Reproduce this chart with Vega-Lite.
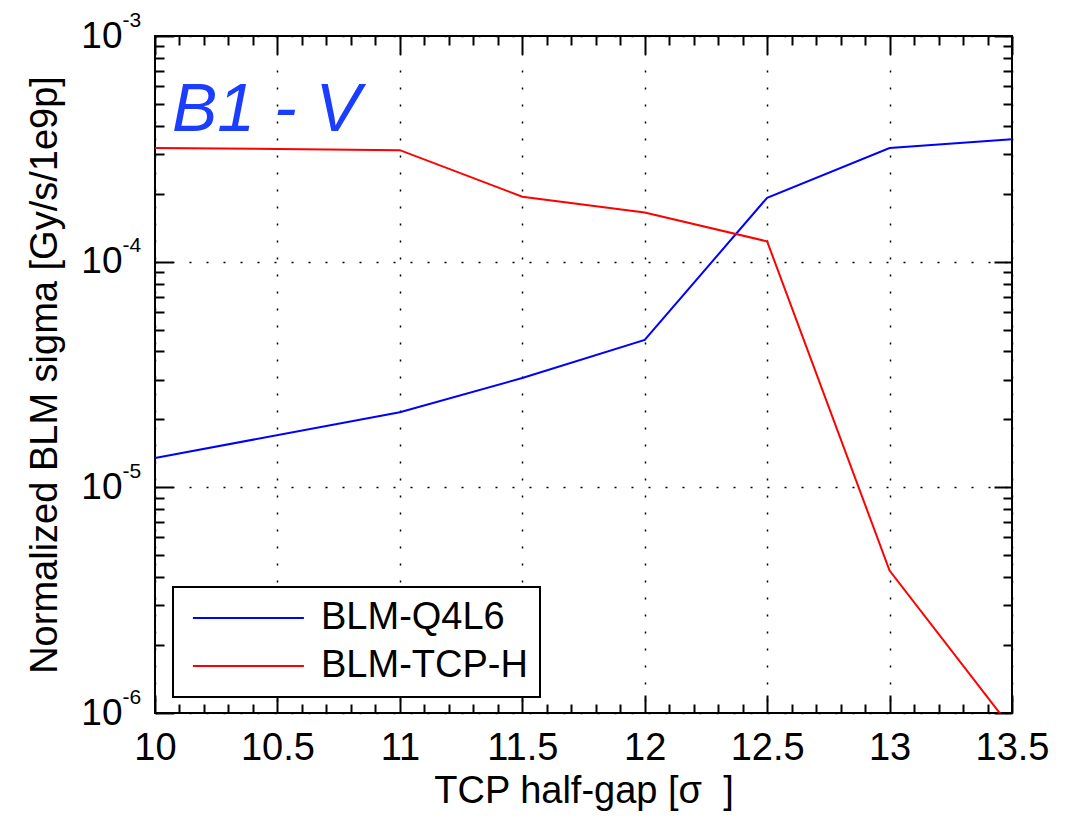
{
  "$schema": "https://vega.github.io/schema/vega-lite/v6.json",
  "width": 857,
  "height": 677,
  "autosize": "none",
  "padding": {"left": 155, "top": 36, "right": 55, "bottom": 106},
  "background": "white",
  "config": {
    "font": "Liberation Sans",
    "view": {"stroke": "black", "strokeWidth": 2},
    "axis": {"labelFont": "Liberation Sans", "titleFont": "Liberation Sans", "labelColor": "black", "titleColor": "black", "tickColor": "black", "tickWidth": 2, "domain": false, "grid": false, "labelOverlap": false, "labelFlush": false},
    "legend": {"strokeWidth": 2}
  },
  "title": {"text": "B1 - V", "anchor": "start", "frame": "group", "fontSize": 68, "font": "Liberation Sans", "fontStyle": "italic", "fontWeight": "normal", "color": "#1a3dff", "baseline": "alphabetic", "offset": 0, "dx": 17, "dy": 190},
  "data": {
    "values": [
      {"gap": 10, "level": 1.35e-5, "blm": "BLM-Q4L6"},
      {"gap": 11, "level": 2.15e-5, "blm": "BLM-Q4L6"},
      {"gap": 11.5, "level": 3.05e-5, "blm": "BLM-Q4L6"},
      {"gap": 12, "level": 4.5e-5, "blm": "BLM-Q4L6"},
      {"gap": 12.5, "level": 1.92e-4, "blm": "BLM-Q4L6"},
      {"gap": 13, "level": 3.19e-4, "blm": "BLM-Q4L6"},
      {"gap": 13.5, "level": 3.49e-4, "blm": "BLM-Q4L6"},
      {"gap": 10, "level": 3.19e-4, "blm": "BLM-TCP-H"},
      {"gap": 11, "level": 3.12e-4, "blm": "BLM-TCP-H"},
      {"gap": 11.5, "level": 1.94e-4, "blm": "BLM-TCP-H"},
      {"gap": 12, "level": 1.65e-4, "blm": "BLM-TCP-H"},
      {"gap": 12.5, "level": 1.23e-4, "blm": "BLM-TCP-H"},
      {"gap": 13, "level": 4.28e-6, "blm": "BLM-TCP-H"},
      {"gap": 13.5, "level": 8.5e-7, "blm": "BLM-TCP-H"}
    ]
  },
  "layer": [
    {
      "mark": {"type": "line", "clip": true, "strokeWidth": 2},
      "encoding": {
        "x": {"field": "gap", "type": "quantitative", "scale": {"domain": [10, 13.5], "nice": false, "zero": false},
          "axis": {"orient": "bottom", "title": "TCP half-gap [σ\u00a0\u00a0]", "titleFontSize": 38, "titleFontWeight": "normal", "titlePadding": 5,
            "values": [10, 10.5, 11, 11.5, 12, 12.5, 13, 13.5],
            "labelExpr": "format(datum.value,'~g')",
            "labelFontSize": 38, "labelPadding": 34, "labelBaseline": "top",
            "tickSize": -18,
            "grid": true, "gridColor": "black", "gridWidth": 1.5, "gridDash": [2, 15]}},
        "y": {"field": "level", "type": "quantitative", "scale": {"type": "log", "domain": [1e-6, 1e-3], "nice": false},
          "axis": {"orient": "left", "title": "Normalized BLM sigma [Gy/s/1e9p]", "titleFontSize": 38, "titleFontWeight": "normal", "titlePadding": 16,
            "values": [1e-6, 1e-5, 1e-4, 1e-3],
            "labelExpr": "'10'",
            "labelFontSize": 37, "labelPadding": 51, "labelBaseline": "middle",
            "tickSize": -18,
            "grid": true, "gridColor": "black", "gridWidth": 1.5, "gridDash": [2, 15]}},
        "color": {"field": "blm", "type": "nominal",
          "scale": {"domain": ["BLM-Q4L6", "BLM-TCP-H"], "range": ["#0000ff", "#ff0000"]},
          "legend": {"orient": "none", "legendX": 18, "legendY": 551, "title": null, "symbolType": "M-1,0H9", "symbolSize": 493, "symbolStrokeWidth": 2,
            "labelFontSize": 38, "labelFont": "Liberation Sans", "labelColor": "black", "labelOffset": 98, "labelLimit": 400,
            "strokeColor": "black", "fillColor": "white", "padding": 12, "rowPadding": 10, "cornerRadius": 0}}
      }
    },
    {
      "mark": {"type": "line", "clip": true, "strokeWidth": 2, "opacity": 0},
      "encoding": {
        "x": {"field": "gap", "type": "quantitative",
          "axis": {"orient": "bottom", "title": null, "labels": false,
            "values": [10.1,10.2,10.3,10.4,10.6,10.7,10.8,10.9,11.1,11.2,11.3,11.4,11.6,11.7,11.8,11.9,12.1,12.2,12.3,12.4,12.6,12.7,12.8,12.9,13.1,13.2,13.3,13.4],
            "tickSize": -9}},
        "y": {"field": "level", "type": "quantitative",
          "axis": {"orient": "left", "title": null, "labels": false,
            "values": [2e-6,3e-6,4e-6,5e-6,6e-6,7e-6,8e-6,9e-6,2e-5,3e-5,4e-5,5e-5,6e-5,7e-5,8e-5,9e-5,2e-4,3e-4,4e-4,5e-4,6e-4,7e-4,8e-4,9e-4],
            "tickSize": -9}},
        "color": {"field": "blm", "type": "nominal", "legend": null}
      }
    },
    {
      "mark": {"type": "line", "clip": true, "strokeWidth": 2, "opacity": 0},
      "encoding": {
        "x": {"field": "gap", "type": "quantitative",
          "axis": {"orient": "top", "title": null, "labels": false,
            "values": [10, 10.5, 11, 11.5, 12, 12.5, 13, 13.5],
            "tickSize": -18}},
        "y": {"field": "level", "type": "quantitative",
          "axis": {"orient": "right", "title": null, "labels": false,
            "values": [1e-6, 1e-5, 1e-4, 1e-3],
            "tickSize": -18}},
        "color": {"field": "blm", "type": "nominal", "legend": null}
      }
    },
    {
      "mark": {"type": "line", "clip": true, "strokeWidth": 2, "opacity": 0},
      "encoding": {
        "x": {"field": "gap", "type": "quantitative",
          "axis": {"orient": "top", "title": null, "labels": false,
            "values": [10.1,10.2,10.3,10.4,10.6,10.7,10.8,10.9,11.1,11.2,11.3,11.4,11.6,11.7,11.8,11.9,12.1,12.2,12.3,12.4,12.6,12.7,12.8,12.9,13.1,13.2,13.3,13.4],
            "tickSize": -9}},
        "y": {"field": "level", "type": "quantitative",
          "axis": {"orient": "right", "title": null, "labels": false,
            "values": [2e-6,3e-6,4e-6,5e-6,6e-6,7e-6,8e-6,9e-6,2e-5,3e-5,4e-5,5e-5,6e-5,7e-5,8e-5,9e-5,2e-4,3e-4,4e-4,5e-4,6e-4,7e-4,8e-4,9e-4],
            "tickSize": -9}},
        "color": {"field": "blm", "type": "nominal", "legend": null}
      }
    },
    {
      "mark": {"type": "line", "clip": true, "strokeWidth": 2, "opacity": 0},
      "encoding": {
        "x": {"field": "gap", "type": "quantitative", "axis": null},
        "y": {"field": "level", "type": "quantitative",
          "axis": {"orient": "left", "title": null, "ticks": false,
            "values": [1e-6, 1e-5, 1e-4, 1e-3],
            "labelExpr": "'' + round(log(datum.value)/LN10)",
            "labelFontSize": 21, "labelAlign": "left", "labelPadding": 33, "labelOffset": -16, "labelBaseline": "middle"}},
        "color": {"field": "blm", "type": "nominal", "legend": null}
      }
    }
  ],
  "resolve": {"axis": {"x": "independent", "y": "independent"}}
}
